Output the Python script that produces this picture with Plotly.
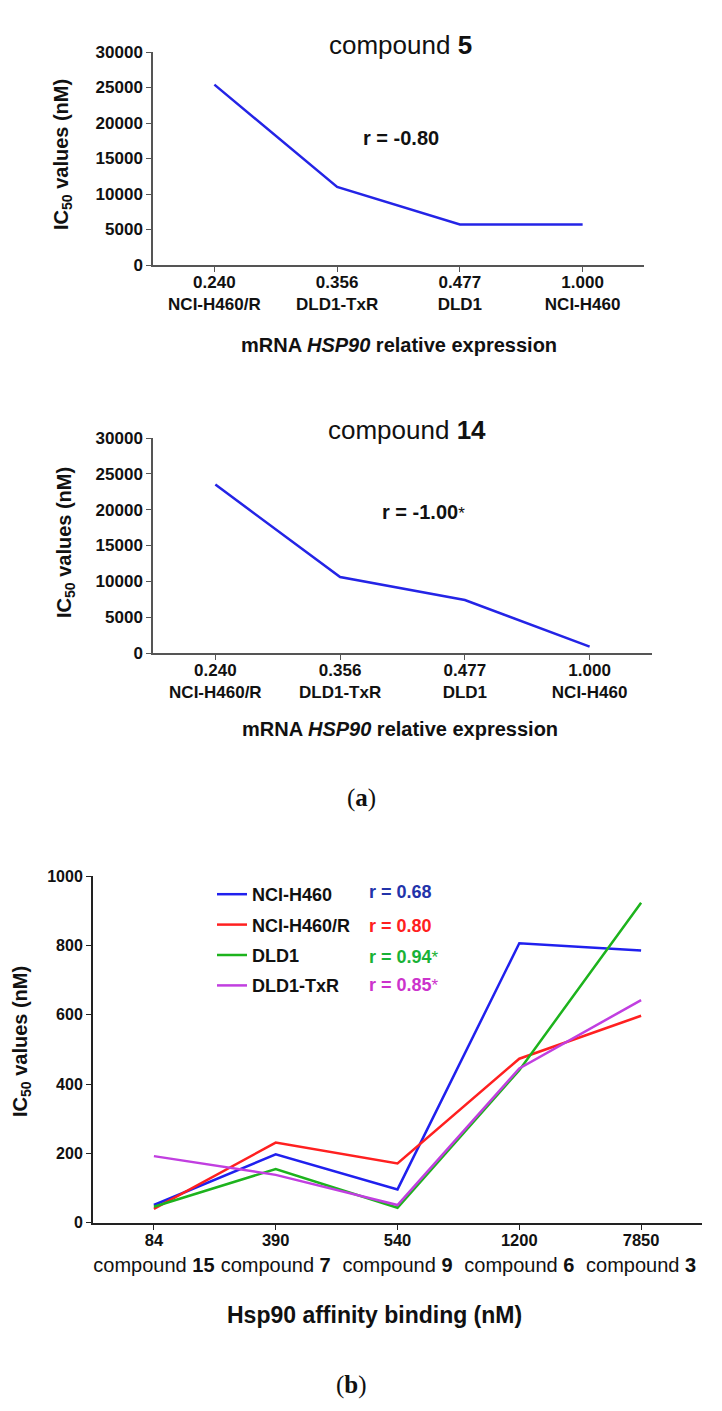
import plotly.graph_objects as go

# ---------------- data ----------------
expr_levels = ["0.240", "0.356", "0.477", "1.000"]
cell_lines_a = ["NCI-H460/R", "DLD1-TxR", "DLD1", "NCI-H460"]
ic50_cpd5 = [25400, 11000, 5700, 5700]
ic50_cpd14 = [23500, 10600, 7400, 900]

affinity = ["84", "390", "540", "1200", "7850"]
compounds_b = ["15", "7", "9", "6", "3"]
ic50_h460 = [51, 197, 96, 806, 785]
ic50_h460r = [40, 231, 171, 473, 597]
ic50_dld1 = [46, 155, 43, 440, 923]
ic50_dld1txr = [192, 138, 51, 445, 642]
series_names = ["NCI-H460", "NCI-H460/R", "DLD1", "DLD1-TxR"]
r_values = ["r = 0.68", "r = 0.80", "r = 0.94", "r = 0.85"]
r_signif = [False, False, True, True]

# page body has an 8px default margin; size the figure so it fills the window
OFF = 8
W, H = 722 - OFF, 1411 - OFF
FONT = "Liberation Sans, Arial, Helvetica, sans-serif"
STAR = "<span style='font-size:17px'>*</span>"


def px(x):
    return (x - OFF) / W


def py(y):
    return 1 - (y - OFF) / H


fig = go.Figure()

fig.add_trace(go.Scatter(x=expr_levels, y=ic50_cpd5, mode="lines",
                         line=dict(color="#2424e6", width=2.5),
                         xaxis="x", yaxis="y", showlegend=False))
fig.add_trace(go.Scatter(x=expr_levels, y=ic50_cpd14, mode="lines",
                         line=dict(color="#2424e6", width=2.5),
                         xaxis="x2", yaxis="y2", showlegend=False))

b_colors = ["#2020ee", "#ff2020", "#1db31d", "#c13fe0"]
b_series = [ic50_h460, ic50_h460r, ic50_dld1, ic50_dld1txr]
for i, (name, vals, col) in enumerate(zip(series_names, b_series, b_colors)):
    fig.add_trace(go.Scatter(x=affinity, y=vals, mode="lines", name=name,
                             legendgroup=f"g{i}",
                             line=dict(color=col, width=2.5),
                             xaxis="x3", yaxis="y3"))

ticktext_a = [f"<b>{e}</b><br><b>{c}</b>" for e, c in zip(expr_levels, cell_lines_a)]
ticktext_b = [f"<span style='font-size:16.5px'><b>{a}</b></span><br>compound <b>{c}</b>"
              for a, c in zip(affinity, compounds_b)]

axis_a_color = "#555555"
axis_b_color = "#222222"

common_x = dict(type="category", showline=True, linewidth=1.5, ticks="outside",
                ticklen=5, showgrid=False, zeroline=False, range=[-0.5, 3.5],
                automargin=False, ticklabelstandoff=-4)
common_y = dict(showline=True, linewidth=1.5, ticks="outside", ticklen=5,
                showgrid=False, zeroline=False, automargin=False, tickformat="d")

fig.update_layout(
    template="none",
    width=W, height=H,
    margin=dict(l=0, r=0, t=0, b=0, pad=0),
    paper_bgcolor="white", plot_bgcolor="white",
    font=dict(family=FONT, color="#111111"),
    xaxis=dict(**common_x, domain=[px(153), px(644)], anchor="y",
               linecolor=axis_a_color, tickcolor=axis_a_color,
               tickvals=expr_levels, ticktext=ticktext_a,
               tickfont=dict(size=17, family=FONT, color="#111111")),
    yaxis=dict(**common_y, domain=[py(265), py(52)], anchor="x",
               range=[0, 30000], dtick=5000,
               linecolor=axis_a_color, tickcolor=axis_a_color,
               tickfont=dict(size=17, family=FONT, weight="bold", color="#111111")),
    xaxis2=dict(**common_x, domain=[px(153), px(652)], anchor="y2",
                linecolor=axis_a_color, tickcolor=axis_a_color,
                tickvals=expr_levels, ticktext=ticktext_a,
                tickfont=dict(size=17, family=FONT, color="#111111")),
    yaxis2=dict(**common_y, domain=[py(653), py(438)], anchor="x2",
                range=[0, 30000], dtick=5000,
                linecolor=axis_a_color, tickcolor=axis_a_color,
                tickfont=dict(size=17, family=FONT, weight="bold", color="#111111")),
    xaxis3=dict(type="category", showline=True, linewidth=2, ticks="outside",
                ticklen=5, showgrid=False, zeroline=False, range=[-0.5, 4.5],
                automargin=False, ticklabelstandoff=-8,
                domain=[px(93), px(702)], anchor="y3",
                linecolor=axis_b_color, tickcolor=axis_b_color,
                tickvals=affinity, ticktext=ticktext_b,
                tickfont=dict(size=20, family=FONT, color="#111111")),
    yaxis3=dict(showline=True, linewidth=2, ticks="outside", ticklen=5,
                showgrid=False, zeroline=False, automargin=False, tickformat="d",
                domain=[py(1222.7), py(876)], anchor="x3",
                range=[0, 1000], dtick=200,
                linecolor=axis_b_color, tickcolor=axis_b_color,
                tickfont=dict(size=16, family=FONT, weight="bold", color="#111111")),
    legend=dict(x=px(212), y=py(876), xanchor="left", yanchor="top",
                bgcolor="rgba(0,0,0,0)", traceorder="grouped", tracegroupgap=4,
                itemwidth=30, borderwidth=0,
                font=dict(size=18, family=FONT, weight="bold", color="#111111")),
    showlegend=True,
)

ann = []
ann.append(dict(x=px(400), y=py(45), text="compound <b>5</b>", font=dict(size=26)))
ann.append(dict(x=px(407), y=py(430), text="compound <b>14</b>", font=dict(size=26)))
ann.append(dict(x=px(401), y=py(138), text="<b>r = -0.80</b>", font=dict(size=20)))
ann.append(dict(x=px(423), y=py(512), text="<b>r = -1.00</b>" + STAR, font=dict(size=20)))
ann.append(dict(x=px(399), y=py(345), text="<b>mRNA <i>HSP90</i> relative expression</b>",
                font=dict(size=20)))
ann.append(dict(x=px(400), y=py(729), text="<b>mRNA <i>HSP90</i> relative expression</b>",
                font=dict(size=20)))
ann.append(dict(x=px(375), y=py(1315), text="<b>Hsp90 affinity binding (nM)</b>",
                font=dict(size=23)))
for (xx, yy) in [(63, 155), (65, 542), (21, 1042)]:
    ann.append(dict(x=px(xx), y=py(yy), text="<b>IC<sub>50</sub> values (nM)</b>",
                    textangle=-90, font=dict(size=20)))
ann.append(dict(x=px(361), y=py(798), text="(<b>a</b>)",
                font=dict(size=25, family="Liberation Serif, Times New Roman, serif")))
ann.append(dict(x=px(351), y=py(1385), text="(<b>b</b>)",
                font=dict(size=25, family="Liberation Serif, Times New Roman, serif")))
r_colors = ["#2233aa", "#ff2020", "#19b236", "#cc33cc"]
for rv, sig, rc, yy in zip(r_values, r_signif, r_colors, [892, 926, 957, 985]):
    ann.append(dict(x=px(367), y=py(yy), text=f"<b>{rv}</b>" + (STAR if sig else ""),
                    xanchor="left", font=dict(size=18, color=rc)))

for a in ann:
    a.setdefault("xanchor", "center")
    a.setdefault("yanchor", "middle")
    a["xref"] = "paper"
    a["yref"] = "paper"
    a["showarrow"] = False
    f = a.get("font", {})
    f.setdefault("family", FONT)
    f.setdefault("color", "#111111")
    a["font"] = f

fig.update_layout(annotations=ann)

fig.write_html("out.html")
